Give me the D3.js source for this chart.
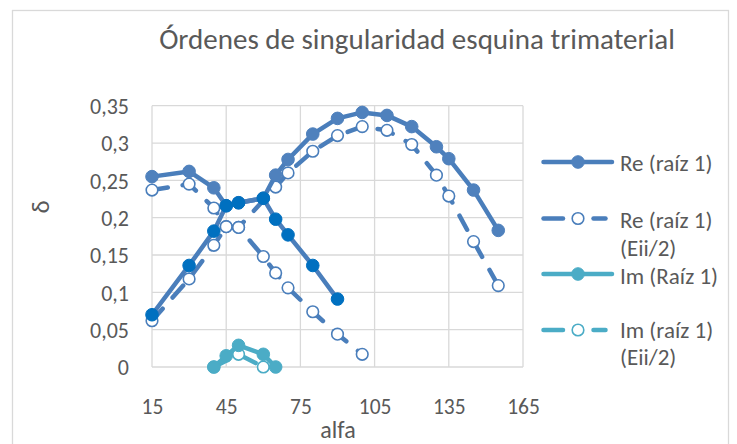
<!DOCTYPE html>
<html>
<head>
<meta charset="utf-8">
<script src="https://cdn.jsdelivr.net/npm/d3@7/dist/d3.min.js"></script>
<style>
  html, body { margin: 0; padding: 0; background: #fff; }
  svg { display: block; }
  text { font-family: Carlito, Calibri, Lato, "Noto Sans", sans-serif; fill: #595959; }
</style>
</head>
<body>
<svg id="chart" width="737" height="444"></svg>
<script>
// ---- data -------------------------------------------------------------
const chartTitle = "Órdenes de singularidad esquina trimaterial";
const xAxisTitle = "alfa";
const yAxisTitle = "δ";

const xTicks = [15, 45, 75, 105, 135, 165];
const yTicks = [0, 0.05, 0.1, 0.15, 0.2, 0.25, 0.3, 0.35];

// Re (raíz 1): upper branch
const reAlfa = [15, 30, 40, 45, 50, 60, 65, 70, 80, 90, 100, 110, 120, 130, 135, 145, 155];
const reDelta = [0.255, 0.262, 0.240, 0.216, 0.220, 0.226, 0.257, 0.278, 0.312, 0.333, 0.341, 0.337, 0.322, 0.295, 0.279, 0.237, 0.183];

// Re (raíz 1): lower branch (highlighted markers)
const reLowAlfa = [15, 30, 40, 45, 50, 60, 65, 70, 80, 90];
const reLowDelta = [0.070, 0.136, 0.182, 0.216, 0.220, 0.226, 0.198, 0.177, 0.136, 0.091];

// Re (raíz 1) (Eii/2): two branches
const reEiiAlfaA = [15, 30, 40, 45, 50, 60, 65, 70, 80, 90, 100];
const reEiiDeltaA = [0.237, 0.245, 0.213, 0.188, 0.187, 0.148, 0.126, 0.106, 0.074, 0.044, 0.017];
const reEiiAlfaB = [15, 30, 40, 45, 50, 65, 70, 80, 90, 100, 110, 120, 130, 135, 145, 155];
const reEiiDeltaB = [0.062, 0.118, 0.163, 0.188, 0.187, 0.241, 0.260, 0.289, 0.310, 0.322, 0.317, 0.298, 0.257, 0.229, 0.168, 0.109];

// Im (Raíz 1)
const imAlfa = [40, 45, 50, 60, 65];
const imDelta = [0, 0.015, 0.029, 0.017, 0];

// Im (raíz 1) (Eii/2)
const imEiiAlfa = [40, 50, 60];
const imEiiDelta = [0, 0.017, 0];

const legendLabels = [
  ["Re (raíz 1)"],
  ["Re (raíz 1)", "(Eii/2)"],
  ["Im (Raíz 1)"],
  ["Im (raíz 1)", "(Eii/2)"]
];

// ---- styles -----------------------------------------------------------
const blue = "#4A7EBB";
const blueFill = "#4F81BD";
const darkBlue = "#0070C0";
const teal = "#4BACC6";
const grid = "#D9D9D9";
const lineW = 4.5;
const dash = "16 15";
const rFilled = 6.3;
const rOpen = 5.8;

const svg = d3.select("#chart");

// chart frame
svg.append("rect")
  .attr("x", 12.5).attr("y", 10.5)
  .attr("width", 716).attr("height", 460)
  .attr("fill", "#fff").attr("stroke", grid).attr("stroke-width", 1.3);

const x = d3.scaleLinear().domain([15, 165]).range([152, 523]);
const y = d3.scaleLinear().domain([0, 0.35]).range([367, 105.7]);

// gridlines
svg.append("g").selectAll("line").data(yTicks).join("line")
  .attr("x1", x(15)).attr("x2", x(165))
  .attr("y1", d => y(d)).attr("y2", d => y(d))
  .attr("stroke", grid).attr("stroke-width", 1.3);
svg.append("g").selectAll("line").data(xTicks).join("line")
  .attr("x1", d => x(d)).attr("x2", d => x(d))
  .attr("y1", y(0)).attr("y2", y(0.35))
  .attr("stroke", grid).attr("stroke-width", 1.3);

// axes
const esLocale = d3.formatLocale({ decimal: ",", thousands: ".", grouping: [3], currency: ["", " €"] });
const fmtY = esLocale.format(".2~f");

const xAxis = svg.append("g")
  .attr("transform", `translate(0,${y(0)})`)
  .call(d3.axisBottom(x).tickValues(xTicks).tickSize(0).tickFormat(d3.format("d")));
xAxis.select(".domain").remove();
xAxis.selectAll("text")
  .attr("y", 39).attr("dy", "0.35em")
  .style("font-size", "21.5px").attr("fill", "#595959");

const yAxis = svg.append("g")
  .attr("transform", `translate(${x(15)},0)`)
  .call(d3.axisLeft(y).tickValues(yTicks).tickSize(0).tickPadding(23).tickFormat(fmtY));
yAxis.select(".domain").remove();
yAxis.selectAll("text")
  .attr("dy", "0.35em")
  .style("font-size", "22px").attr("fill", "#595959");

// titles
svg.append("text")
  .attr("x", 417).attr("y", 39).attr("dy", "0.35em")
  .attr("text-anchor", "middle")
  .style("font-size", "29px").style("font-weight", 300)
  .text(chartTitle);

svg.append("text")
  .attr("x", 338).attr("y", 430).attr("dy", "0.35em")
  .attr("text-anchor", "middle")
  .style("font-size", "24px")
  .text(xAxisTitle);

svg.append("text")
  .attr("transform", "translate(40,207) rotate(-90)")
  .attr("dy", "0.35em")
  .attr("text-anchor", "middle")
  .style("font-size", "25px")
  .text(yAxisTitle);

// series
const pts = (xs, ys) => xs.map((a, i) => [a, ys[i]]);
const line = d3.line().x(d => x(d[0])).y(d => y(d[1]));

function drawSeries(data, opt) {
  const g = svg.append("g");
  g.append("path")
    .attr("d", line(data))
    .attr("fill", "none")
    .attr("stroke", opt.color)
    .attr("stroke-width", lineW)
    .attr("stroke-linecap", "round")
    .attr("stroke-linejoin", "round")
    .attr("stroke-dasharray", opt.dashed ? dash : null);
  g.selectAll("circle").data(data).join("circle")
    .attr("cx", d => x(d[0])).attr("cy", d => y(d[1]))
    .attr("r", opt.open ? rOpen : rFilled)
    .attr("fill", opt.open ? "#fff" : opt.fill)
    .attr("stroke", opt.open ? opt.color : opt.fill)
    .attr("stroke-width", opt.open ? 1.6 : 1);
}

drawSeries(pts(reEiiAlfaA, reEiiDeltaA), { color: blue, dashed: true, open: true });
drawSeries(pts(reEiiAlfaB, reEiiDeltaB), { color: blue, dashed: true, open: true });
drawSeries(pts(reAlfa, reDelta), { color: blue, fill: blueFill });
drawSeries(pts(reLowAlfa, reLowDelta), { color: blue, fill: darkBlue });
drawSeries(pts(imEiiAlfa, imEiiDelta), { color: teal, dashed: true, open: true });
drawSeries(pts(imAlfa, imDelta), { color: teal, fill: teal });

// legend
const legendRows = [
  { cy: 162, color: blue, open: false, fill: blueFill, textY: [163] },
  { cy: 218.5, color: blue, open: true, textY: [219.5, 247.5] },
  { cy: 274, color: teal, open: false, fill: teal, textY: [275.5] },
  { cy: 330, color: teal, open: true, textY: [329.5, 357] }
];
const lg = svg.append("g");
legendRows.forEach((r, i) => {
  const row = lg.append("g");
  if (r.open) {
    [[543.5, 563], [593.5, 605.5]].forEach(s => {
      row.append("line")
        .attr("x1", s[0]).attr("x2", s[1]).attr("y1", r.cy).attr("y2", r.cy)
        .attr("stroke", r.color).attr("stroke-width", lineW).attr("stroke-linecap", "round");
    });
    row.append("circle").attr("cx", 578).attr("cy", r.cy).attr("r", rOpen)
      .attr("fill", "#fff").attr("stroke", r.color).attr("stroke-width", 1.6);
  } else {
    row.append("line")
      .attr("x1", 543.5).attr("x2", 612).attr("y1", r.cy).attr("y2", r.cy)
      .attr("stroke", r.color).attr("stroke-width", lineW).attr("stroke-linecap", "round");
    row.append("circle").attr("cx", 578).attr("cy", r.cy).attr("r", rFilled)
      .attr("fill", r.fill).attr("stroke", r.fill).attr("stroke-width", 1);
  }
  legendLabels[i].forEach((t, k) => {
    row.append("text")
      .attr("x", 620).attr("y", r.textY[k]).attr("dy", "0.35em")
      .style("font-size", "23px")
      .text(t);
  });
});
</script>
</body>
</html>
